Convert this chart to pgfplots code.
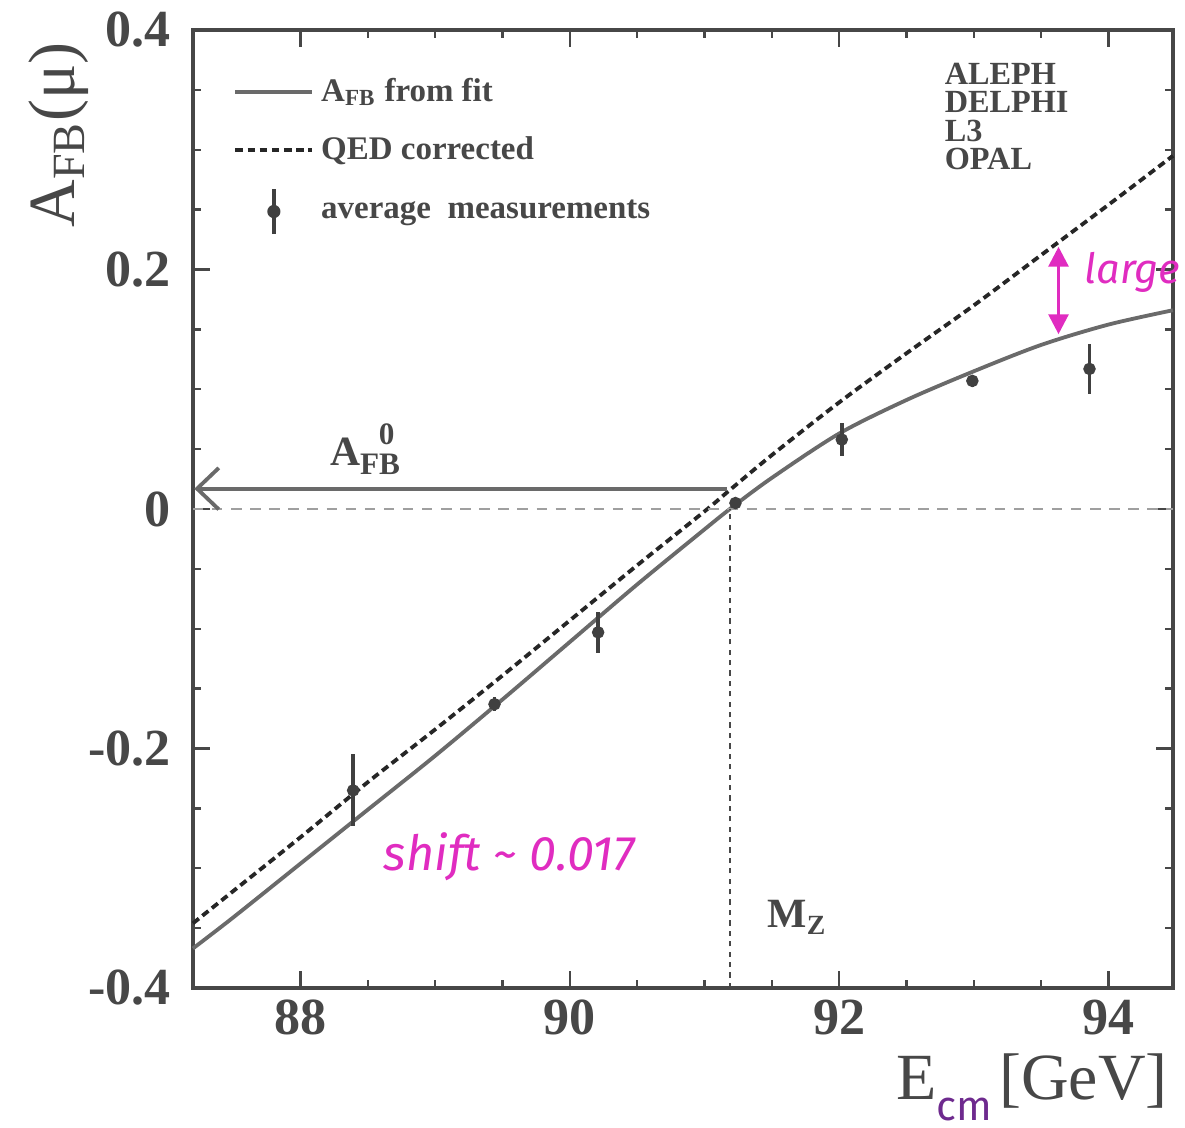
\documentclass[border=0pt]{standalone}
\usepackage{fontspec}
\setmainfont{Liberation Serif}
\newfontfamily\hand{Fira Sans}
\usepackage{pgfplots}
\pgfplotsset{compat=1.18}
\usetikzlibrary{arrows.meta}
\definecolor{axgray}{HTML}{474747}
\definecolor{fitgray}{HTML}{6A6A6A}
\definecolor{pinkm}{HTML}{E02CC0}
\definecolor{purp}{HTML}{6E2A8E}
\pgfplotstableread{
x y e
88.39 -0.235 0.030
89.44 -0.163 0.006
90.21 -0.103 0.017
91.23 0.005 0.004
92.02 0.058 0.014
92.99 0.107 0.005
93.86 0.117 0.021
}\meas
\begin{document}
\begin{tikzpicture}
\path[use as bounding box] (-1.954cm,-1.408cm) rectangle (10.046cm,10.005cm);
\begin{axis}[
  at={(0,0)}, anchor=south west,
  width=9.924cm, height=9.701cm, scale only axis,
  xmin=87.2, xmax=94.48, ymin=-0.4, ymax=0.4,
  xtick={88,90,92,94}, ytick={-0.4,-0.2,0,0.2,0.4},
  minor x tick num=3, minor y tick num=3,
  tick align=inside, xtick pos=both, ytick pos=both,
  xticklabel pos=lower, yticklabel pos=left,
  major tick length=0.17cm, minor tick length=0.085cm,
  axis line style={axgray, line width=0.9pt},
  every tick/.style={axgray, line width=0.7pt},
  tick label style={font=\fontsize{15}{18}\selectfont\bfseries, text=axgray},
  /pgf/number format/assume math mode=true,
  yticklabel style={xshift=-0.1cm},
  clip=false,
  legend cell align=left,
  legend style={at={(0.03,0.965)}, anchor=north west, draw=none, fill=none,
    font=\fontsize{9.5}{11}\selectfont\bfseries, text=axgray,
    row sep=0.16cm},
]
\addplot[fitgray, line width=1.1pt, smooth,
  legend image code/.code={\draw[fitgray, line width=1.1pt] (0cm,0cm) -- (0.78cm,0cm);}]
  coordinates {
  (87.2,-0.367) (87.5,-0.341) (88.0,-0.296) (88.5,-0.251) (89.0,-0.206)
  (89.5,-0.159) (90.0,-0.111) (90.5,-0.063) (91.0,-0.017) (91.2,0.001)
  (91.5,0.026) (92.0,0.063) (92.5,0.091) (93.0,0.115) (93.5,0.137)
  (94.0,0.154) (94.48,0.166)};
\addlegendentry{A\textsubscript{FB} from fit}
\addplot[black!85, line width=1.1pt, dash pattern=on 2.2pt off 1.3pt, smooth,
  legend image code/.code={\draw[black!85, line width=1.1pt, dash pattern=on 2.2pt off 1.3pt] (0cm,0cm) -- (0.78cm,0cm);}]
  coordinates {
  (87.2,-0.346) (87.5,-0.319) (88.0,-0.274) (88.5,-0.228) (89.0,-0.184)
  (89.5,-0.139) (90.0,-0.093) (90.5,-0.047) (91.0,-0.002) (91.2,0.017)
  (91.5,0.045) (92.0,0.089) (92.5,0.130) (93.0,0.170) (93.5,0.212)
  (94.0,0.254) (94.48,0.295)};
\addlegendentry{QED corrected}
\addplot[only marks, mark=*, mark size=1.6pt, black!75,
  legend image code/.code={\draw[black!75, line width=1pt] (0.39cm,-0.23cm) -- (0.39cm,0.23cm); \fill[black!75] (0.39cm,0cm) circle (1.7pt);},
  error bars/.cd, y dir=both, y explicit,
  error bar style={line width=1pt, black!75}, error mark=none]
  table[x=x, y=y, y error=e] {\meas};
\addlegendentry{average\ \ measurements}
% reference lines
\addplot[forget plot, gray!75, line width=0.6pt, dash pattern=on 3pt off 2.5pt]
  coordinates {(87.2,0) (94.48,0)};
\addplot[forget plot, axgray, line width=0.8pt, dash pattern=on 1.5pt off 1.5pt]
  coordinates {(91.19,-0.4) (91.19,0)};
\addplot[forget plot, fitgray, line width=1.1pt, -{Straight Barb[length=0.22cm, width=0.42cm]}]
  coordinates {(91.17,0.017) (87.21,0.017)};
\addplot[forget plot, pinkm, line width=0.9pt,
  {Triangle[length=0.2cm,width=0.2cm]}-{Triangle[length=0.2cm,width=0.2cm]}]
  coordinates {(93.63,0.146) (93.63,0.219)};
% texts
\node[font=\fontsize{12}{14}\selectfont\bfseries, text=axgray] at (axis cs:88.33,0.050)
  {A\makebox[0pt][l]{\raisebox{-0.5ex}{\fontsize{9}{10}\selectfont FB}}\makebox[0pt][l]{\hspace{0.45em}\raisebox{1.1ex}{\fontsize{9}{10}\selectfont 0}}\hspace{1.1em}};
\node[font=\fontsize{12}{14}\selectfont\bfseries, text=axgray] at (axis cs:91.69,-0.341)
  {M\textsubscript{Z}};
\node[anchor=north west, align=left, inner sep=0pt, font=\fontsize{9.3}{8.2}\selectfont\bfseries, text=axgray]
  at (axis cs:92.78,0.373) {ALEPH\\DELPHI\\L3\\OPAL};
\node[font=\hand\itshape\fontsize{14}{16}\selectfont, text=pinkm] at (axis cs:89.55,-0.29)
  {shift \textasciitilde\ 0.017};
\node[font=\hand\itshape\fontsize{12}{14}\selectfont, text=pinkm, anchor=east, inner sep=0pt] at (axis cs:94.54,0.198)
  {large};
\node[rotate=90, anchor=base east, font=\fontsize{19}{22}\selectfont, text=axgray]
  at ([xshift=-1.195cm]rel axis cs:0,1) {A\textsubscript{FB}(μ)};
\node[anchor=base east, font=\fontsize{19}{22}\selectfont, text=axgray]
  at ([xshift=0.07cm, yshift=-1.134cm]rel axis cs:1,0)
  {E{\hand\color{purp}\fontsize{12}{14}\selectfont\raisebox{-6pt}{cm}}\hspace{0.1em}[GeV]};
\end{axis}
\end{tikzpicture}
\end{document}
